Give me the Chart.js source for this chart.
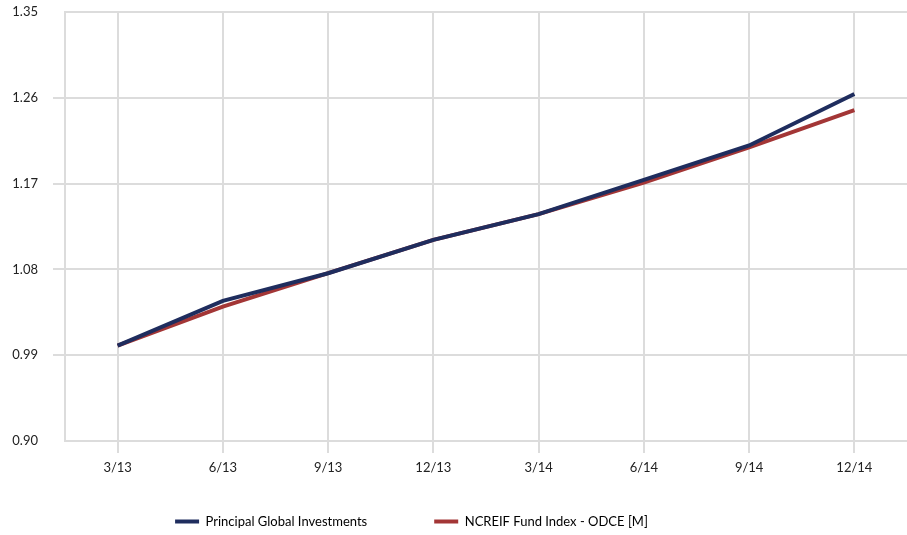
<!DOCTYPE html>
<html>
<head>
<meta charset="utf-8">
<script src="https://cdn.jsdelivr.net/npm/chart.js@4.4.1/dist/chart.umd.min.js"></script>
<style>
  html, body { margin: 0; padding: 0; background: #ffffff; }
  #wrap { width: 907px; height: 535px; }
</style>
</head>
<body>
<div id="wrap"><canvas id="c" width="907" height="535"></canvas></div>
<script>
const categories = ["3/13", "6/13", "9/13", "12/13", "3/14", "6/14", "9/14", "12/14"];
const principalValues = [1.000, 1.047, 1.076, 1.111, 1.138, 1.174, 1.210, 1.264];
const ncreifValues = [1.000, 1.041, 1.076, 1.111, 1.138, 1.171, 1.208, 1.247];
const seriesNames = ["Principal Global Investments", "NCREIF Fund Index - ODCE [M]"];
const yMin = 0.90, yMax = 1.35, yStep = 0.09;

const gridColor = '#dcdcdc';
const fontFamily = 'Lato, "Open Sans", sans-serif';

const legendTweak = {
  id: 'legendTweak',
  beforeLayout(chart) {
    const lg = chart.legend;
    if (lg && !lg._patched) {
      const f = lg.fit;
      lg.fit = function () { f.call(this); this.height = 58; };
      lg._patched = true;
    }
  },
  afterLayout(chart) {
    const lg = chart.legend;
    if (lg) {
      lg.left -= 42; lg.right -= 42;
      lg.top -= 29;
    }
  }
};

new Chart(document.getElementById('c'), {
  type: 'line',
  data: {
    labels: categories,
    datasets: [
      { label: seriesNames[0], data: principalValues, borderColor: '#1f2d5e', backgroundColor: '#1f2d5e',
        borderWidth: 4, pointRadius: 0, tension: 0, order: 0 },
      { label: seriesNames[1], data: ncreifValues, borderColor: '#a33636', backgroundColor: '#a33636',
        borderWidth: 4, pointRadius: 0, tension: 0, order: 1 }
    ]
  },
  options: {
    responsive: false,
    animation: false,
    layout: { padding: { top: 12, left: 0, right: 0, bottom: 0 } },
    plugins: {
      tooltip: { enabled: false },
      legend: {
        position: 'bottom',
        align: 'center',
        labels: {
          boxWidth: 24,
          boxHeight: 4,
          padding: 67,
          color: '#222222',
          font: { family: fontFamily, size: 13 },
          generateLabels(chart) {
            return chart.data.datasets.map((ds, i) => ({
              text: ds.label, fillStyle: ds.borderColor, strokeStyle: ds.borderColor,
              lineWidth: 0, hidden: false, datasetIndex: i
            }));
          }
        }
      }
    },
    scales: {
      x: {
        type: 'category',
        offset: true,
        grid: { color: gridColor, lineWidth: 2, tickLength: 12, offset: false, drawTicks: true },
        border: { display: false },
        ticks: { color: '#222222', padding: 7, font: { family: fontFamily, size: 13 }, maxRotation: 0, autoSkip: false },
        afterFit(scale) { scale.height = 36; scale.paddingLeft = 0; scale.paddingRight = 0; }
      },
      y: {
        min: yMin, max: yMax,
        grid: {
          color: gridColor, lineWidth: 2, tickLength: 12,
          tickColor: (ctx) => (ctx.index === 0 || ctx.index === 5) ? 'rgba(0,0,0,0)' : gridColor
        },
        border: { display: true, color: gridColor, width: 2 },
        ticks: {
          stepSize: yStep, padding: 15, color: '#222222',
          font: { family: fontFamily, size: 13 },
          callback: (v) => Number(v).toFixed(2)
        },
        afterFit(scale) { scale.width = 65; scale.paddingTop = 0; scale.paddingBottom = 0; }
      }
    }
  },
  plugins: [legendTweak]
});
</script>
</body>
</html>
